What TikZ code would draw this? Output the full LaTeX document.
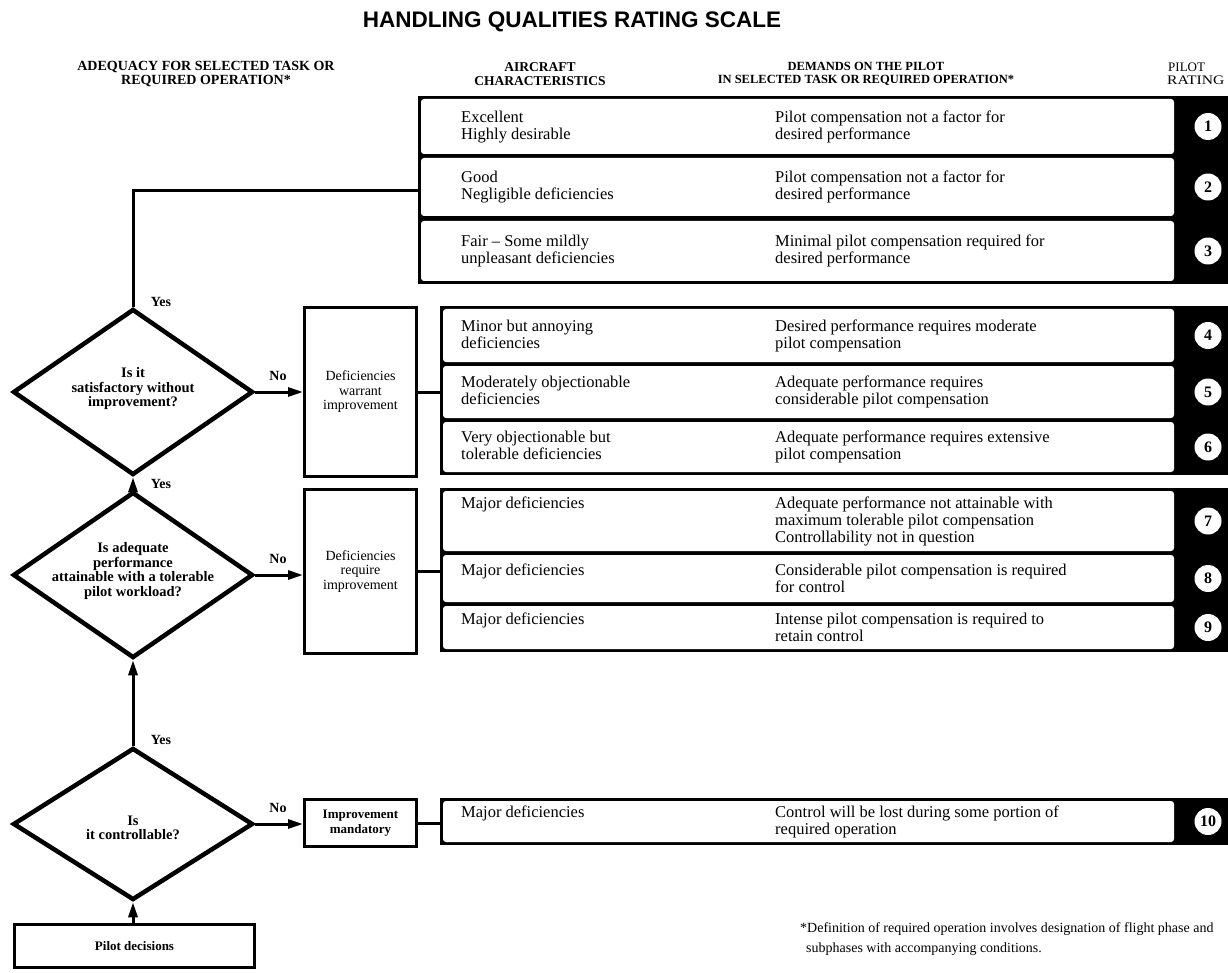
\documentclass[tikz,border=0pt]{standalone}
\usepackage{fontspec}
\setmainfont{Liberation Serif}
\newfontfamily\titlefont{Liberation Sans}
\usetikzlibrary{shapes.geometric,arrows.meta}

% one row of a rating group: name, left x, top y, bottom y, characteristics, demands, rating
\newcommand\hqrow[7]{%
  \pgfmathsetmacro\hqyc{(#3+#4)/2}
  \fill[white, rounded corners=3pt] (#2,#3) rectangle (1174,#4);
  \node[rowtxt, anchor=west] (#1d) at (775,\hqyc) {#6};
  \node[rowtxt, anchor=north west] (#1c) at ([xshift=-314pt]#1d.north west) {#5};
  \node[numc] (#1n) at (1208,\hqyc) {#7};
}

\begin{document}
\begin{tikzpicture}[x=1pt,y=-1pt,
  dia/.style={draw, line width=4.5pt, diamond, minimum width=240pt, minimum height=166pt, inner sep=0pt},
  dtxt/.style={font=\bfseries\fontsize{14.5}{14.5}\selectfont, align=center, inner sep=0pt},
  hqbox/.style={draw, line width=3pt, rectangle, inner sep=0pt, anchor=north west, align=center,
    font=\fontsize{14}{14.5}\selectfont},
  grp/.style={fill=black, rectangle, inner sep=0pt, anchor=north west, minimum width=822pt},
  rowtxt/.style={font=\fontsize{16.5}{17}\selectfont, align=left, inner sep=0pt},
  numc/.style={circle, fill=white, minimum size=27pt, inner sep=0pt, font=\bfseries\fontsize{16}{16}\selectfont},
  hdr/.style={font=\bfseries\fontsize{13}{13.5}\selectfont, align=center, inner sep=0pt},
  lbl/.style={font=\bfseries\fontsize{14}{14}\selectfont, inner sep=0pt},
  conn/.style={line width=3pt},
  arr/.style={line width=3pt, -{Triangle[length=15pt,width=9pt]}}
]
\useasboundingbox (0,0) rectangle (1228,973);
\fill[white] (0,0) rectangle (1228,973);

% title and column headings
\node[font=\titlefont\bfseries\fontsize{22.5}{27}\selectfont, inner sep=0pt] (title) at (572,22) {HANDLING QUALITIES RATING SCALE};
\node[hdr, font=\bfseries\fontsize{14}{13.5}\selectfont] (h1) at (206,74) {ADEQUACY FOR SELECTED TASK OR\\REQUIRED OPERATION*};
\node[hdr, font=\bfseries\fontsize{13.5}{13.5}\selectfont] (h2) at (540,74) {AIRCRAFT\\CHARACTERISTICS};
\node[hdr, font=\bfseries\fontsize{12.5}{13.5}\selectfont] (h3) at (866,74) {DEMANDS ON THE PILOT\\IN SELECTED TASK OR REQUIRED OPERATION*};
\node[hdr, anchor=west, align=left, font=\fontsize{13}{13.5}\selectfont] (h4) at (1167,74) {\hspace*{1pt}PILOT\\\scalebox{1.2}[1]{RATING}};

% rating groups
\node[grp, minimum height=188pt] (g1) at (418,96) {};
\hqrow{r1}{421}{99}{154}{\strut Excellent\\Highly desirable}{\strut Pilot compensation not a factor for\\desired performance}{1}
\hqrow{r2}{421}{158}{216}{\strut Good\\Negligible deficiencies}{\strut Pilot compensation not a factor for\\desired performance}{2}
\hqrow{r3}{421}{221}{281}{\strut Fair -- Some mildly\\unpleasant deficiencies}{\strut Minimal pilot compensation required for\\desired performance}{3}

\node[grp, minimum height=169pt] (g2) at (440,306) {};
\hqrow{r4}{443}{309}{362}{\strut Minor but annoying\\deficiencies}{\strut Desired performance requires moderate\\pilot compensation}{4}
\hqrow{r5}{443}{366}{418}{\strut Moderately objectionable\\deficiencies}{\strut Adequate performance requires\\considerable pilot compensation}{5}
\hqrow{r6}{443}{422}{472}{\strut Very objectionable but\\tolerable deficiencies}{\strut Adequate performance requires extensive\\pilot compensation}{6}

\node[grp, minimum height=164pt] (g3) at (440,488) {};
\hqrow{r7}{443}{491}{551}{\strut Major deficiencies}{\strut Adequate performance not attainable with\\maximum tolerable pilot compensation\\Controllability not in question}{7}
\hqrow{r8}{443}{555}{602}{\strut Major deficiencies}{\strut Considerable pilot compensation is required\\for control}{8}
\hqrow{r9}{443}{606}{649}{\strut Major deficiencies}{\strut Intense pilot compensation is required to\\retain control}{9}

\node[grp, minimum height=47pt] (g4) at (440,798) {};
\hqrow{r10}{443}{801}{842}{\strut Major deficiencies}{\strut Control will be lost during some portion of\\required operation}{10}

% decision diamonds
\node[dia] (d1) at (133,392) {};
\node[dtxt] (d1t) at (133,389) {Is it\\satisfactory without\\improvement?};
\node[dia] (d2) at (133,575) {};
\node[dtxt] (d2t) at (133,571) {Is adequate\\performance\\attainable with a tolerable\\pilot workload?};
\node[dia, minimum height=152pt] (d3) at (133,824) {};
\node[dtxt] (d3t) at (133,828) {Is\\it controllable?};

% outcome boxes
\node[hqbox, minimum width=112pt, minimum height=169pt] (b1) at (303,306) {Deficiencies\\warrant\\improvement};
\node[hqbox, minimum width=112pt, minimum height=164pt] (b2) at (303,488) {Deficiencies\\require\\improvement};
\node[hqbox, minimum width=112pt, minimum height=47pt, font=\bfseries\fontsize{13}{14.5}\selectfont] (b3) at (303,798) {Improvement\\mandatory};
\node[hqbox, minimum width=240pt, minimum height=43pt, font=\bfseries\fontsize{13}{14.5}\selectfont] (pd) at (13,923) {Pilot decisions};

% connectors
\draw[conn] (d1.north) |- (g1.west);
\draw[arr] (d1.east) -- (d1.east -| b1.west);
\draw[conn] (b1.east) -- (b1.east -| g2.west);
\draw[arr] (d2.north) -- (d1.south);
\draw[arr] (d2.east) -- (d2.east -| b2.west);
\draw[conn] (b2.east) -- (b2.east -| g3.west);
\draw[arr] (d3.north) -- (d2.south);
\draw[arr] (d3.east) -- (d3.east -| b3.west);
\draw[conn] (b3.east) -- (b3.east -| g4.west);
\draw[arr] (pd.north -| d3.south) -- (d3.south);

% branch labels
\node[lbl] (y1) at (161,302) {Yes};
\node[lbl] (y2) at (161,484) {Yes};
\node[lbl] (y3) at (161,740) {Yes};
\node[lbl] (n1) at (278,376) {No};
\node[lbl] (n2) at (278,559) {No};
\node[lbl] (n3) at (278,808) {No};

% footnote
\node[anchor=north west, font=\fontsize{14}{20}\selectfont, align=left, inner sep=0pt] (foot) at (800,922)
  {*Definition of required operation involves designation of flight phase and\\\hspace*{6pt}subphases with accompanying conditions.};
\end{tikzpicture}
\end{document}
